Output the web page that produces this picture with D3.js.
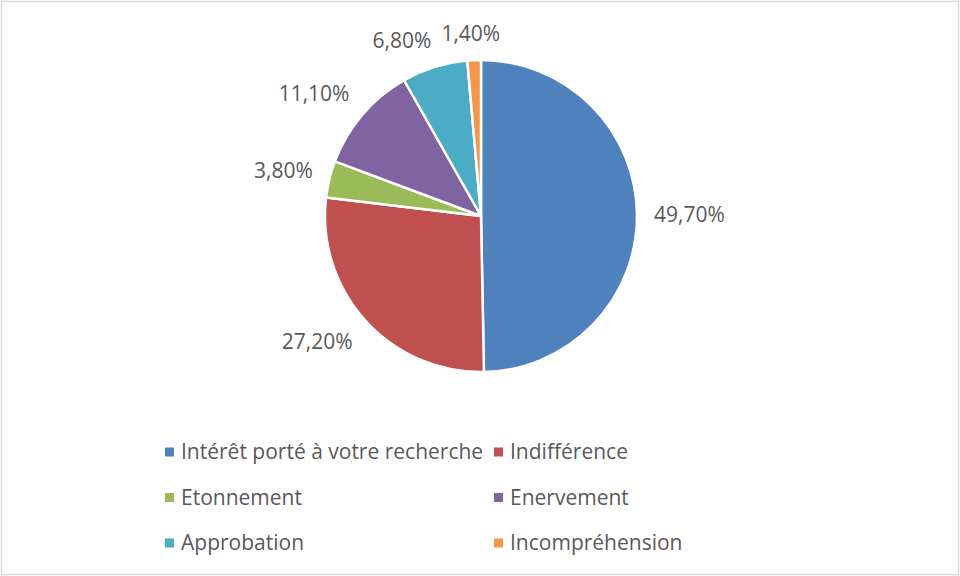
<!DOCTYPE html>
<html>
<head>
<meta charset="utf-8">
<script src="https://cdn.jsdelivr.net/npm/d3@7"></script>
<style>
  body { margin: 0; background: #fff; }
  text { font-family: "Open Sans", "Noto Sans", sans-serif; fill: #595959; }
</style>
</head>
<body>
<svg id="chart"></svg>
<script>
// Data
const categories = ["Intérêt porté à votre recherche", "Indifférence", "Etonnement", "Enervement", "Approbation", "Incompréhension"];
const values = [49.7, 27.2, 3.8, 11.1, 6.8, 1.4];
const valueLabels = ["49,70%", "27,20%", "3,80%", "11,10%", "6,80%", "1,40%"];
const colors = ["#4f81bd", "#c0504d", "#9bbb59", "#8064a2", "#4bacc6", "#f79646"];

const width = 960;
const height = 576;
const cx = 481, cy = 216;
const radius = 156;

const svg = d3.select("#chart")
    .attr("width", width)
    .attr("height", height);

// Chart border
svg.append("rect")
    .attr("x", 1.5).attr("y", 1.5)
    .attr("width", width - 3).attr("height", height - 3)
    .attr("fill", "#fff")
    .attr("stroke", "#d9d9d9")
    .attr("stroke-width", 1.5);

const color = d3.scaleOrdinal().domain(categories).range(colors);

const pie = d3.pie().sort(null).value(d => d.value);
const arcs = pie(categories.map((c, i) => ({ name: c, value: values[i], label: valueLabels[i] })));

const arc = d3.arc().innerRadius(0).outerRadius(radius);

const g = svg.append("g").attr("transform", `translate(${cx},${cy})`);

g.selectAll("path.slice")
    .data(arcs)
  .enter().append("path")
    .attr("class", "slice")
    .attr("d", arc)
    .attr("fill", d => color(d.data.name))
    .attr("stroke", "#fff")
    .attr("stroke-width", 2.5)
    .attr("stroke-linejoin", "round");

// Outside-end labels: box pushed away from the pie edge
const labels = g.selectAll("text.lbl")
    .data(arcs)
  .enter().append("text")
    .attr("class", "lbl")
    .style("font-size", "21px")
    .attr("text-anchor", "middle")
    .attr("dy", "0.35em")
    .text(d => d.data.label);

const clamp = v => Math.max(-1, Math.min(1, v));
const boxes = [];
labels.each(function(d) {
  const a = (d.startAngle + d.endAngle) / 2;
  const w = this.getComputedTextLength();
  const h = 20;
  const ux = Math.sin(a), uy = -Math.cos(a);
  const r = radius + 17;
  boxes.push({
    node: this, w,
    x: ux * r + clamp(ux * 2) * w / 2,
    y: uy * r + clamp(uy * 2) * h / 2
  });
});

// keep a small gap between neighbouring labels (move the earlier one left)
for (let i = boxes.length - 2; i >= 0; i--) {
  const a = boxes[i], b = boxes[i + 1];
  const gap = 10;
  const overlap = (a.x + a.w / 2 + gap) - (b.x - b.w / 2);
  if (overlap > 0 && Math.abs(a.y - b.y) < 22 && a.x < b.x) a.x -= overlap;
}
boxes.forEach(b => d3.select(b.node).attr("x", b.x).attr("y", b.y));

// Legend
const col = d3.scalePoint().domain([0, 1]).range([165, 494]);
const row = d3.scalePoint().domain([0, 1, 2]).range([452, 543]);

const legend = svg.selectAll("g.legend")
    .data(categories)
  .enter().append("g")
    .attr("class", "legend")
    .attr("transform", (d, i) => `translate(${col(i % 2)},${row(Math.floor(i / 2))})`);

legend.append("rect")
    .attr("x", 0).attr("y", -4.5)
    .attr("width", 9).attr("height", 9)
    .attr("fill", d => color(d));

legend.append("text")
    .attr("x", 16)
    .attr("dy", "0.35em")
    .style("font-size", "21px")
    .text(d => d);
</script>
</body>
</html>
